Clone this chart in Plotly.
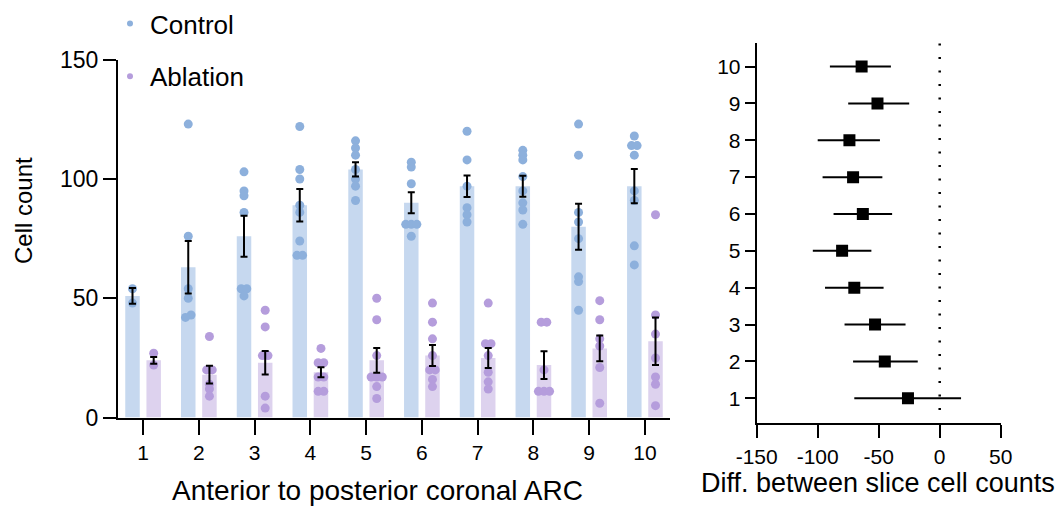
import plotly.graph_objects as go
import numpy as np

# ---------------- data ----------------
categories = [1, 2, 3, 4, 5, 6, 7, 8, 9, 10]
tick_labels = ["1", "2", "3", "4", "5", "6", "7", "8", "9", "10"]

control_points = [
    [54, 48],
    [123, 76, 54, 50, 43, 42],
    [103, 95, 93, 86, 54, 54, 51],
    [122, 104, 100, 89, 86, 74, 68, 68],
    [116, 113, 110, 104, 100, 97, 91],
    [107, 105, 98, 81, 81, 81, 76],
    [120, 108, 97, 88, 85, 82],
    [112, 110, 108, 101, 95, 90, 87, 81],
    [123, 110, 86, 82, 75, 59, 57, 45],
    [118, 114, 114, 110, 95, 91, 72, 64],
]
ablation_points = [
    [27, 22],
    [34, 20, 20, 14, 12, 9],
    [45, 38, 26, 26, 9, 4],
    [29, 23, 23, 17, 17, 11, 11],
    [50, 41, 26, 17, 17, 17, 13, 8],
    [48, 40, 33, 26, 20, 20, 16, 13],
    [48, 31, 31, 26, 19, 15, 12],
    [40, 40, 20, 11, 11, 11],
    [49, 41, 33, 30, 21, 6],
    [85, 43, 35, 25, 17, 14, 5],
]
control_mean = [51, 63, 76, 89, 104, 90, 97, 97, 80, 97]
control_sem = [3.3, 11, 8.6, 6.8, 3, 4.4, 4.5, 4.4, 9.6, 7.2]
ablation_mean = [24, 18, 23, 19, 24, 26, 25, 22, 29, 32]
ablation_sem = [1.4, 3.7, 4.9, 2.1, 5.2, 4.4, 4.2, 5.8, 5.4, 10]

diff_mean = [-26, -45, -53, -70, -80, -63, -71, -74, -51, -64]
diff_ci_low = [-70, -71, -78, -94, -104, -87, -96, -100, -75, -90]
diff_ci_high = [17.5, -18, -28, -46, -56, -39, -47, -49, -25, -40]

# ---------------- styling ----------------
FONT = "Arial, Liberation Sans, sans-serif"
C_BAR, C_DOT = "#c6d8ef", "#8db0dc"
A_BAR, A_DOT = "#ddd2ee", "#b59ddc"
OFF = 0.19
BAR_W = 0.26
STEP = 0.1


def swarm(cat_x, vals, tol=1.5):
    """spread overlapping points symmetrically around the group centre"""
    order = np.argsort(vals)
    xs = [0.0] * len(vals)
    clusters, cur = [], [order[0]]
    for a, b in zip(order[:-1], order[1:]):
        if abs(vals[b] - vals[a]) < tol:
            cur.append(b)
        else:
            clusters.append(cur)
            cur = [b]
    clusters.append(cur)
    for cl in clusters:
        n = len(cl)
        for i, idx in enumerate(cl):
            xs[idx] = cat_x + (i - (n - 1) / 2) * STEP
    return xs


fig = go.Figure()

cx = [c - OFF for c in categories]
ax = [c + OFF for c in categories]

fig.add_trace(go.Bar(x=cx, y=control_mean, width=BAR_W, marker_color=C_BAR,
                     marker_line_width=0, showlegend=False, xaxis="x", yaxis="y"))
fig.add_trace(go.Bar(x=ax, y=ablation_mean, width=BAR_W, marker_color=A_BAR,
                     marker_line_width=0, showlegend=False, xaxis="x", yaxis="y"))

px_c, py_c, px_a, py_a = [], [], [], []
for i, c in enumerate(categories):
    px_c += swarm(c - OFF, control_points[i]); py_c += control_points[i]
    px_a += swarm(c + OFF, ablation_points[i]); py_a += ablation_points[i]

fig.add_trace(go.Scatter(x=px_c, y=py_c, mode="markers", marker=dict(size=9, color=C_DOT),
                         showlegend=False, xaxis="x", yaxis="y"))
fig.add_trace(go.Scatter(x=px_a, y=py_a, mode="markers", marker=dict(size=9, color=A_DOT),
                         showlegend=False, xaxis="x", yaxis="y"))

# legend entries
fig.add_trace(go.Scatter(x=[None], y=[None], mode="markers", name="Control",
                         marker=dict(size=6, color=C_DOT), legendgroup="c", xaxis="x", yaxis="y"))
fig.add_trace(go.Scatter(x=[None], y=[None], mode="markers", name="Ablation",
                         marker=dict(size=6, color=A_DOT), legendgroup="a", xaxis="x", yaxis="y"))

# error bars (SEM)
for xs, m, s in [(cx, control_mean, control_sem), (ax, ablation_mean, ablation_sem)]:
    fig.add_trace(go.Scatter(x=xs, y=m, mode="markers", marker=dict(size=1, opacity=0),
                             error_y=dict(type="data", array=s, color="black", thickness=2, width=3.5),
                             showlegend=False, xaxis="x", yaxis="y"))

# right panel
err_plus = [h - m for h, m in zip(diff_ci_high, diff_mean)]
err_minus = [m - l for m, l in zip(diff_mean, diff_ci_low)]
fig.add_trace(go.Scatter(x=diff_mean, y=categories, mode="markers",
                         marker=dict(symbol="square", size=12, color="black"),
                         error_x=dict(type="data", array=err_plus, arrayminus=err_minus,
                                      color="black", thickness=2, width=0),
                         showlegend=False, xaxis="x2", yaxis="y2"))

W, H = 1063, 510
fig.update_layout(
    width=W, height=H, margin=dict(l=0, r=0, t=0, b=0),
    plot_bgcolor="white", paper_bgcolor="white",
    font=dict(family=FONT, color="black"),
    barmode="overlay",
    xaxis=dict(domain=[118 / W, 670 / W], range=[0.55, 10.45], tickvals=categories, ticktext=tick_labels,
               showline=True, linecolor="black", linewidth=2, ticks="outside", ticklen=15,
               tickwidth=2, tickcolor="black", showgrid=False, zeroline=False,
               tickfont=dict(size=21), automargin=False),
    yaxis=dict(domain=[(H - 417.6) / H, (H - 59.7) / H], range=[0, 150], tickvals=[0, 50, 100, 150],
               showline=True, linecolor="black", linewidth=2, ticks="outside", ticklen=13,
               tickwidth=2, tickcolor="black", showgrid=False, zeroline=False,
               tickfont=dict(size=23), automargin=False),
    xaxis2=dict(domain=[756.7 / W, 1000.7 / W], range=[-150, 50], tickvals=[-150, -100, -50, 0, 50],
                ticktext=["-150", "-100", "-50", "0", "50"], anchor="y2",
                showline=True, linecolor="black", linewidth=2, ticks="outside", ticklen=13,
                tickwidth=2, tickcolor="black", showgrid=False, zeroline=False,
                tickfont=dict(size=21), automargin=False),
    yaxis2=dict(domain=[(H - 423.3) / H, (H - 43) / H], range=[0.32, 10.64], tickvals=categories,
                ticktext=tick_labels, anchor="x2",
                showline=True, linecolor="black", linewidth=2, ticks="outside", ticklen=10,
                tickwidth=2, tickcolor="black", showgrid=False, zeroline=False,
                tickfont=dict(size=21), automargin=False),
    legend=dict(x=110 / W, y=1.0, xanchor="left", yanchor="top", font=dict(size=26),
                bgcolor="rgba(0,0,0,0)", traceorder="grouped", tracegroupgap=16,
                itemsizing="trace"),
    shapes=[dict(type="line", xref="x2", yref="y2", x0=0, x1=0, y0=0.68, y1=10.64,
                 line=dict(color="black", width=2.5, dash="2px,11.5px"))],
    annotations=[
        dict(text="Anterior to posterior coronal ARC", xref="paper", yref="paper",
             x=377 / W, y=(H - 490) / H, xanchor="center", yanchor="middle",
             showarrow=False, font=dict(size=28)),
        dict(text="Diff. between slice cell counts", xref="paper", yref="paper",
             x=878 / W, y=(H - 483) / H, xanchor="center", yanchor="middle",
             showarrow=False, font=dict(size=27)),
        dict(text="Cell count", xref="paper", yref="paper", x=23 / W, y=(H - 211) / H,
             xanchor="center", yanchor="middle", textangle=-90, showarrow=False,
             font=dict(size=24)),
    ],
)

fig.write_html("out.html")
